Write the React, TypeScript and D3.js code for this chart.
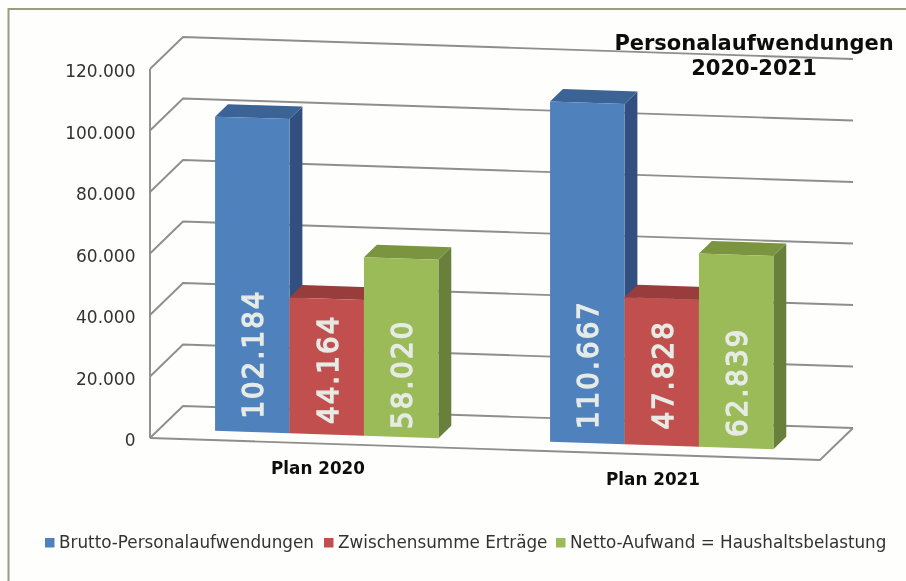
import React from "react";
import * as d3 from "d3";

const categories = ["Plan 2020", "Plan 2021"];
const seriesNames = ["Brutto-Personalaufwendungen", "Zwischensumme Erträge", "Netto-Aufwand = Haushaltsbelastung"];
const brutto = [102184, 110667];
const ertraege = [44164, 47828];
const netto = [58020, 62839];
const valueLabels = [["102.184", "110.667"], ["44.164", "47.828"], ["58.020", "62.839"]];
const yTicks = [0, 20000, 40000, 60000, 80000, 100000, 120000];
const yTickLabels = ["0", "20.000", "40.000", "60.000", "80.000", "100.000", "120.000"];
const frontColors = ["#4f81bd", "#c0504d", "#9bbb59"];
const topColors = ["#3a6496", "#983c3a", "#7a9440"];
const sideColors = ["#31507f", "#8a3533", "#67803a"];

const FONT = "'DejaVu Sans', Verdana, sans-serif";
const seriesValues = [brutto, ertraege, netto];
const labelOffsets = [[13.5, 14], [10.5, 16], [8, 11]];

const floorX = d3.scaleLinear().domain([0, 1]).range([150, 820]);
const floorY = d3.scaleLinear().domain([0, 1]).range([438, 460]);
const heightPx = d3.scaleLinear().domain([0, 120000]).range([0, 369]);
const catBand = d3.scaleBand<string>().domain(categories).range([0, 1]);
const serBand = d3.scaleBand<string>().domain(seriesNames).range([0, catBand.bandwidth()]).paddingInner(0).paddingOuter(0.75);

// oblique projection: u along the category axis, d into the depth, v = value
function project(u: number, d: number, v: number): [number, number] {
  return [floorX(u) + 33 * d, floorY(u) - 32 * d - heightPx(v)];
}
const poly = (pts: [number, number][]) => pts.map((p) => p.map((n) => n.toFixed(2)).join(",")).join(" ");
const D0 = 0.28;
const D1 = 0.67;

export default function App() {
  const gridLine = d3.line();
  return (
    <svg width={906} height={581} style={{ position: "absolute", left: 0, top: 0, background: "#fefefd" }}>
      <defs>
        <filter id="soft" x="-5%" y="-5%" width="110%" height="110%">
          <feGaussianBlur stdDeviation="0.45" />
        </filter>
      </defs>
      <g filter="url(#soft)">
        <path d="M8.5,581V9H906" fill="none" stroke="#9b9b82" strokeWidth={2} />
        {yTicks.map((t) => (
          <path
            key={t}
            d={gridLine([project(0, 0, t), project(0, 1, t), project(1, 1, t)]) || ""}
            fill="none"
            stroke="#8e8e8e"
            strokeWidth={1.9}
          />
        ))}
        <path d={gridLine([project(0, 0, 0), project(0, 0, 120000)]) || ""} fill="none" stroke="#8e8e8e" strokeWidth={1.9} />
        <path d={gridLine([project(0, 0, 0), project(1, 0, 0), project(1, 1, 0)]) || ""} fill="none" stroke="#8e8e8e" strokeWidth={1.9} />
        {yTicks.map((t, i) => (
          <text key={t} x={135.5} y={project(0, 0, t)[1] + 8} textAnchor="end" fontFamily={FONT} fontSize={17} fill="#333">
            {yTickLabels[i]}
          </text>
        ))}
        {categories.map((c) => {
          const u0 = catBand(c) as number;
          return (
            <text key={c} x={floorX(u0 + 0.25) + 0.5} y={floorY(u0 + 0.25) + 30} textAnchor="middle" fontFamily={FONT} fontWeight="bold" fontSize={16.8} fill="#111">
              {c}
            </text>
          );
        })}
        {categories.map((c, ci) =>
          seriesNames.map((s, si) => {
            const v = seriesValues[si][ci];
            const a = (catBand(c) as number) + (serBand(s) as number);
            const b = a + serBand.bandwidth();
            const bl = project(a, D0, 0);
            const br = project(b, D0, 0);
            const mid = project((a + b) / 2, D0, 0);
            return (
              <g key={s + c}>
                <polygon points={poly([project(b, D0, 0), project(b, D1, 0), project(b, D1, v), project(b, D0, v)])} fill={sideColors[si]} />
                <polygon points={poly([project(a, D0, v), project(a, D1, v), project(b, D1, v), project(b, D0, v)])} fill={topColors[si]} />
                <polygon points={poly([bl, br, project(b, D0, v), project(a, D0, v)])} fill={frontColors[si]} />
                <text
                  transform={`translate(${mid[0] + 11},${mid[1] - labelOffsets[si][ci]}) rotate(-90)`}
                  fontFamily={FONT}
                  fontSize={27.5}
                  letterSpacing={2.2}
                  fill="#e6ebe6"
                  stroke="#e6ebe6"
                  strokeWidth={1.4}
                >
                  {valueLabels[si][ci]}
                </text>
              </g>
            );
          })
        )}
        <text x={754} y={49.5} textAnchor="middle" fontFamily={FONT} fontWeight="bold" fontSize={21} fill="#111">
          Personalaufwendungen
        </text>
        <text x={754} y={75} textAnchor="middle" fontFamily={FONT} fontWeight="bold" fontSize={21} fill="#111">
          2020-2021
        </text>
        {[0, 1, 2].map((i) => {
          const sx = [45, 324, 556][i];
          return (
            <g key={i}>
              <rect x={sx} y={538} width={9.5} height={9.5} fill={frontColors[i]} />
              <text x={sx + 14} y={548} fontFamily={FONT} fontSize={16.8} fill="#333">
                {seriesNames[i]}
              </text>
            </g>
          );
        })}
      </g>
    </svg>
  );
}
